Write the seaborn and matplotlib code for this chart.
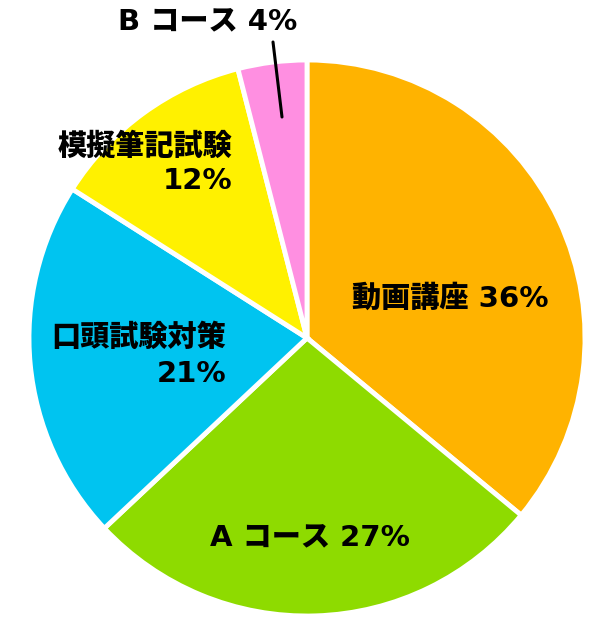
import matplotlib
matplotlib.use("Agg")
import matplotlib.pyplot as plt
import seaborn as sns

categories = ["動画講座", "Aコース", "口頭試験対策", "模擬筆記試験", "Bコース"]
values = [36, 27, 21, 12, 4]
colors = ["#FFB300", "#8EDB00", "#00C4F0", "#FFF100", "#FF8FE1"]

sns.set_theme(style="white")
plt.rcParams["font.family"] = ["DejaVu Sans", "Noto Sans CJK JP"]

W, H = 615, 617
fig = plt.figure(figsize=(W / 100, H / 100), dpi=100)
ax = fig.add_axes([0, 0, 1, 1])
R = 278.0
cx, cy = 307.0, 338.0
ax.pie(values, colors=colors, startangle=90, counterclock=False,
       radius=1.0, center=(0, 0),
       wedgeprops=dict(edgecolor="white", linewidth=3.5))
ax.set_xlim(-cx / R, (W - cx) / R)
ax.set_ylim(-(H - cy) / R, cy / R)
ax.set_aspect("auto")
ax.axis("off")


def P(px, py):
    return px / W, 1 - py / H


fs = 21
kw = dict(fontsize=fs, fontweight="black", color="black")

fig.text(*P(450, 298), f"{categories[0]} {values[0]}%", ha="center", va="center", **kw)
fig.text(*P(310, 538), "A コース " + f"{values[1]}%", ha="center", va="center", **kw)
fig.text(*P(226, 338), categories[2], ha="right", va="center", **kw)
fig.text(*P(226, 374), f"{values[2]}%", ha="right", va="center", **kw)
fig.text(*P(232, 147), categories[3], ha="right", va="center", **kw)
fig.text(*P(232, 181), f"{values[3]}%", ha="right", va="center", **kw)
fig.text(*P(208, 22), "B コース " + f"{values[4]}%", ha="center", va="center", **kw)

x0, y0 = P(273, 42)
x1, y1 = P(282, 117)
fig.add_artist(plt.Line2D([x0, x1], [y0, y1], color="black", linewidth=2.2,
                          transform=fig.transFigure))

fig.savefig("out.png", dpi=100, facecolor="white")
